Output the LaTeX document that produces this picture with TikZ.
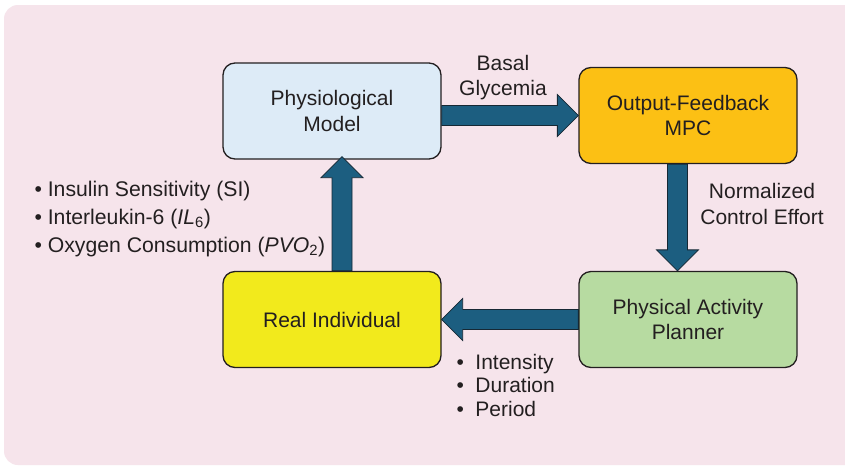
\documentclass[tikz,border=0pt]{standalone}
\usepackage{fontspec}
\setmainfont{Liberation Sans}
\usetikzlibrary{calc}

\definecolor{panelpink}{RGB}{246,228,235}
\definecolor{inkdark}{RGB}{35,31,32}
\definecolor{physblue}{RGB}{221,235,247}
\definecolor{mpcorange}{RGB}{252,192,20}
\definecolor{planggreen}{RGB}{183,219,161}
\definecolor{realyellow}{RGB}{242,234,28}
\definecolor{flowteal}{RGB}{28,94,128}
\definecolor{flowedge}{RGB}{22,40,52}

\tikzset{
  block/.style={draw=inkdark, line width=1.3pt, rounded corners=12pt,
    minimum width=218pt, minimum height=96pt, align=center,
    font=\fontsize{21}{25.5}\selectfont, text=inkdark},
  label/.style={font=\fontsize{21}{25.5}\selectfont, text=inkdark},
  flow/.style={fill=flowteal, draw=flowedge, line width=0.8pt, line join=miter},
}

% block arrow from #1 to #2: shaft half-width, head half-width, head length
\newcommand{\blockflow}[2]{%
  \coordinate (hd) at ($(#2)!21pt!(#1)$);
  \draw[flow] ($(#1)!10pt!90:(#2)$) -- ($(hd)!10pt!90:(#2)$)
    -- ($(hd)!21pt!90:(#2)$) -- (#2) -- ($(hd)!21pt!-90:(#2)$)
    -- ($(hd)!10pt!-90:(#2)$) -- ($(#1)!10pt!-90:(#2)$) -- cycle;
}

\begin{document}
\begin{tikzpicture}[x=1pt, y=-1pt]
  \useasboundingbox (0,0) rectangle (845,466);
  \fill[white] (0,0) rectangle (845,466);
  % backdrop panel
  \fill[panelpink, rounded corners=14pt] (880,5) -- (4,5) -- (4,465) -- (880,465) -- cycle;

  % blocks
  \node[block, fill=physblue]   (phys) at (332,111)   {Physiological\\Model};
  \node[block, fill=mpcorange]  (mpc)  at (688,115.5) {Output-Feedback\\MPC};
  \node[block, fill=planggreen] (plan) at (688,319.5) {Physical Activity\\Planner};
  \node[block, fill=realyellow] (real) at (332,319.5) {Real Individual};

  % connectors
  \coordinate (phyOut) at (phys.east |- mpc.west);
  \blockflow{phyOut}{mpc.west}

  \coordinate (mpcOut) at ([xshift=-10.5pt]mpc.south);
  \coordinate (planIn) at (mpcOut |- plan.north);
  \blockflow{mpcOut}{planIn}

  \coordinate (realIn) at (plan.west -| real.east);
  \blockflow{plan.west}{realIn}

  \coordinate (realOut) at ([xshift=10pt]real.north);
  \coordinate (physIn) at ([yshift=3pt]realOut |- phys.south);
  \blockflow{realOut}{physIn}

  % signal labels
  \node[label, align=center] (lblBasal) at (503,77.5) {Basal\\Glycemia};
  \node[label, align=center] (lblEffort) at (762,204) {Normalized\\Control Effort};
  \node[label, align=left, anchor=west, font=\fontsize{21.2}{28}\selectfont]
    (lblMeas) at (31,219)
    {• Insulin Sensitivity (SI)\\
     • Interleukin-6 (\textit{IL}\textsubscript{6})\\
     • Oxygen Consumption (\textit{PVO}\textsubscript{2})};
  \node[label, align=left, anchor=west, font=\fontsize{21}{23.5}\selectfont]
    (lblPlan) at (453,385)
    {•\hspace{0.55em}Intensity\\ •\hspace{0.55em}Duration\\ •\hspace{0.55em}Period};
\end{tikzpicture}
\end{document}
